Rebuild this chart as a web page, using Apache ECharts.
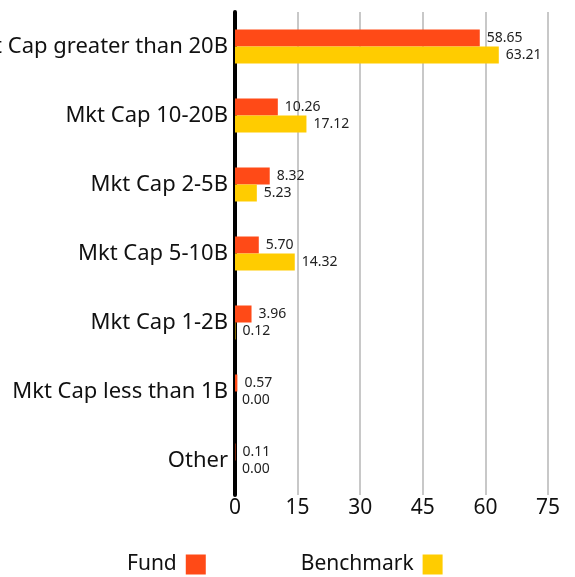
<!DOCTYPE html>
<html>
<head>
<meta charset="utf-8">
<script src="https://cdn.jsdelivr.net/npm/echarts@6/dist/echarts.min.js"></script>
<style>
	html, body { margin: 0; padding: 0; background: #fff; }
	#chart { width: 575px; height: 577px; }
</style>
</head>
<body>
<div id="chart"></div>
<script>
	var categories = ['Mkt Cap greater than 20B', 'Mkt Cap 10-20B', 'Mkt Cap 2-5B', 'Mkt Cap 5-10B', 'Mkt Cap 1-2B', 'Mkt Cap less than 1B', 'Other'];
	var fund = [58.65, 10.26, 8.32, 5.70, 3.96, 0.57, 0.11];
	var benchmark = [63.21, 17.12, 5.23, 14.32, 0.12, 0.00, 0.00];
	var xTicks = [0, 15, 30, 45, 60, 75];

	var font = 'Noto Sans';
	var barLabel = {
		show: true,
		position: 'right',
		distance: 7,
		fontFamily: font,
		fontSize: 14,
		color: '#222',
		formatter: function(p) { return p.value.toFixed(2); }
	};

	var myChart = echarts.init(document.getElementById('chart'));
	myChart.setOption({
		animation: false,
		textStyle: { fontFamily: font },
		legend: {
			bottom: -3,
			left: 122,
			align: 'right',
			itemWidth: 20,
			itemHeight: 20,
			itemGap: 95,
			icon: 'rect',
			textStyle: { fontFamily: font, fontSize: 21, color: '#111', padding: [0, 4, 0, 0] },
			data: ['Fund', 'Benchmark']
		},
		grid: {
			left: 235,
			right: 27,
			top: 12,
			bottom: 82,
			containLabel: false,
			outerBoundsMode: 'none'
		},
		xAxis: {
			type: 'value',
			min: xTicks[0],
			max: xTicks[xTicks.length - 1],
			interval: 15,
			axisLine: { show: false },
			axisTick: { show: false },
			axisLabel: { fontFamily: font, fontSize: 21, color: '#111', margin: 3 },
			splitLine: { show: true, lineStyle: { color: '#c8c8c8', width: 2 } }
		},
		yAxis: {
			type: 'category',
			inverse: true,
			data: categories,
			axisLine: { show: true, lineStyle: { color: '#000', width: 4 } },
			axisTick: { show: false },
			axisLabel: { fontFamily: font, fontSize: 22, color: '#111', margin: 7 }
		},
		series: [
			{
				name: 'Fund',
				type: 'bar',
				data: fund,
				barWidth: 17,
				barGap: '0%',
				itemStyle: { color: '#ff4a17' },
				label: barLabel
			},
			{
				name: 'Benchmark',
				type: 'bar',
				data: benchmark,
				barWidth: 17,
				barGap: '0%',
				itemStyle: { color: '#ffcc00' },
				label: barLabel
			}
		]
	});
</script>
</body>
</html>
